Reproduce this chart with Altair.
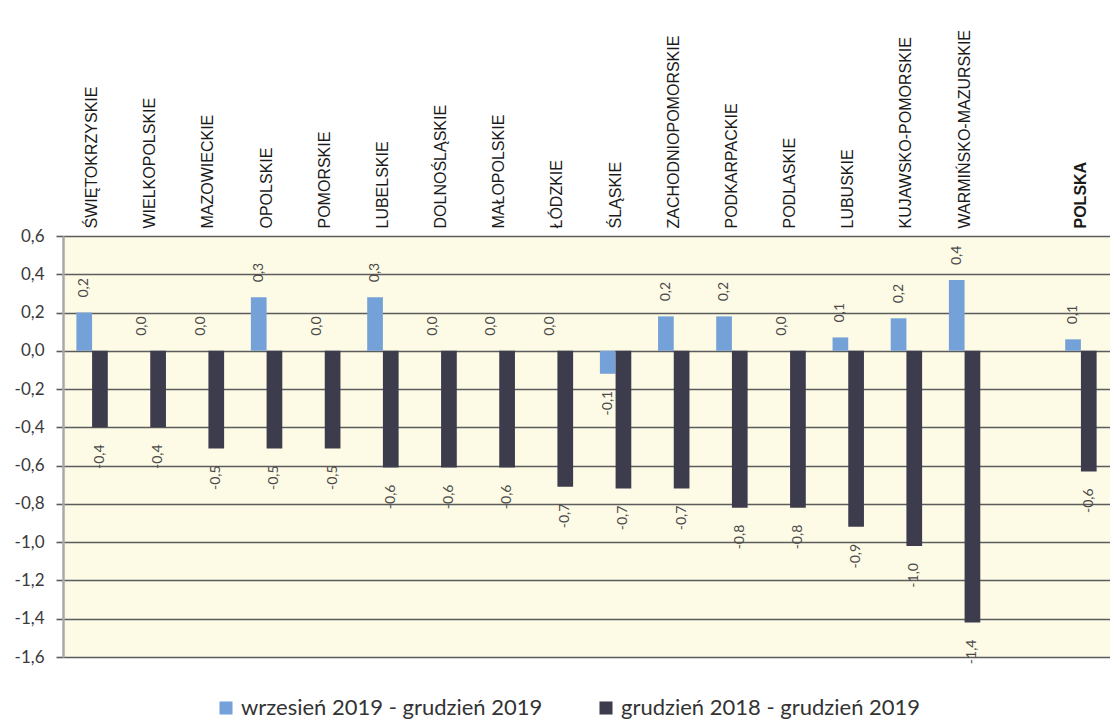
import altair as alt
import pandas as pd

categories = [
    "ŚWIĘTOKRZYSKIE", "WIELKOPOLSKIE", "MAZOWIECKIE", "OPOLSKIE", "POMORSKIE",
    "LUBELSKIE", "DOLNOŚLĄSKIE", "MAŁOPOLSKIE", "ŁÓDZKIE", "ŚLĄSKIE",
    "ZACHODNIOPOMORSKIE", "PODKARPACKIE", "PODLASKIE", "LUBUSKIE",
    "KUJAWSKO-POMORSKIE", "WARMIŃSKO-MAZURSKIE", "POLSKA",
]
gap_label = " "
series_names = ["wrzesień 2019 - grudzień 2019", "grudzień 2018 - grudzień 2019"]
change_sep_dec = [0.20, 0.00, 0.00, 0.28, 0.00, 0.28, 0.00, 0.00, 0.00, -0.12,
                  0.18, 0.18, 0.00, 0.07, 0.17, 0.37, 0.06]
change_dec_dec = [-0.40, -0.40, -0.51, -0.51, -0.51, -0.61, -0.61, -0.61, -0.71, -0.72,
                  -0.72, -0.82, -0.82, -0.92, -1.02, -1.42, -0.63]
y_ticks = [0.6, 0.4, 0.2, 0.0, -0.2, -0.4, -0.6, -0.8, -1.0, -1.2, -1.4, -1.6]
bar_colors = ["#74a2d8", "#3c3c4c"]

axis_order = categories[:-1] + [gap_label] + categories[-1:]

rows = []
for c, a, b in zip(categories, change_sep_dec, change_dec_dec):
    rows.append({"region": c, "series": series_names[0], "value": a})
    rows.append({"region": c, "series": series_names[1], "value": b})
df = pd.DataFrame(rows)

pad = 0.46
x_enc = alt.X(
    "region:N",
    scale=alt.Scale(domain=axis_order, paddingInner=pad, paddingOuter=pad / 2),
    axis=alt.Axis(
        orient="top", title=None, labelAngle=270, domain=False, ticks=False,
        labelPadding=8, labelFont="Liberation Sans", labelFontSize=16,
        labelColor="#1a1a1a", labelLimit=320, grid=False,
        labelFontWeight=alt.condition("datum.value == 'POLSKA'", alt.value(700), alt.value(400)),
    ),
)
xoff = alt.XOffset("series:N", scale=alt.Scale(domain=series_names, paddingInner=0, paddingOuter=0))
y_enc = alt.Y(
    "value:Q",
    scale=alt.Scale(domain=[-1.6, 0.6], nice=False, zero=False),
    axis=alt.Axis(
        title=None, values=y_ticks, format=".1f", grid=True, gridColor="#5c5c5c",
        gridWidth=1.6, tickColor="#5c5c5c", tickSize=7, tickWidth=1.6,
        domainColor="#a8a8a8", domainWidth=2.5, labelFont="Lato",
        labelFontSize=17, labelColor="#3a3a3a", labelPadding=12,
    ),
)

base = alt.Chart(df).encode(x=x_enc, xOffset=xoff, y=y_enc)

bars = base.mark_bar().encode(
    color=alt.Color(
        "series:N",
        scale=alt.Scale(domain=series_names, range=bar_colors),
        legend=alt.Legend(
            title=None, orient="none", legendX=152, legendY=461, direction="horizontal",
            symbolType="square", symbolSize=170, symbolStrokeWidth=0,
            labelFont="Lato", labelFontSize=22, labelColor="#333333",
            columnPadding=52, labelOffset=4, labelLimit=500,
        ),
    )
)

labels_pos = base.transform_filter("datum.value >= 0").mark_text(
    angle=270, align="left", baseline="middle", dx=15,
    font="Lato", fontSize=14, color="#4a4a4a",
).encode(text=alt.Text("value:Q", format=".1f"))

labels_neg = base.transform_filter("datum.value < 0").mark_text(
    angle=270, align="right", baseline="middle", dx=-17,
    font="Lato", fontSize=14, color="#4a4a4a",
).encode(text=alt.Text("value:Q", format=".1f"))

chart = alt.layer(bars, labels_pos, labels_neg).properties(
    width=1047, height=421,
    autosize=alt.AutoSizeParams(type="none"),
    padding={"left": 55, "top": 228, "right": 0, "bottom": 64},
    background="white",
).configure_view(fill="#fdfbe6", stroke=None)

chart.save(
    "out.html",
    embed_options={
        "renderer": "svg",
        "actions": False,
        "formatLocale": {
            "decimal": ",", "thousands": "\u00a0", "grouping": [3],
            "currency": ["", " zł"], "minus": "-",
        },
    },
)
